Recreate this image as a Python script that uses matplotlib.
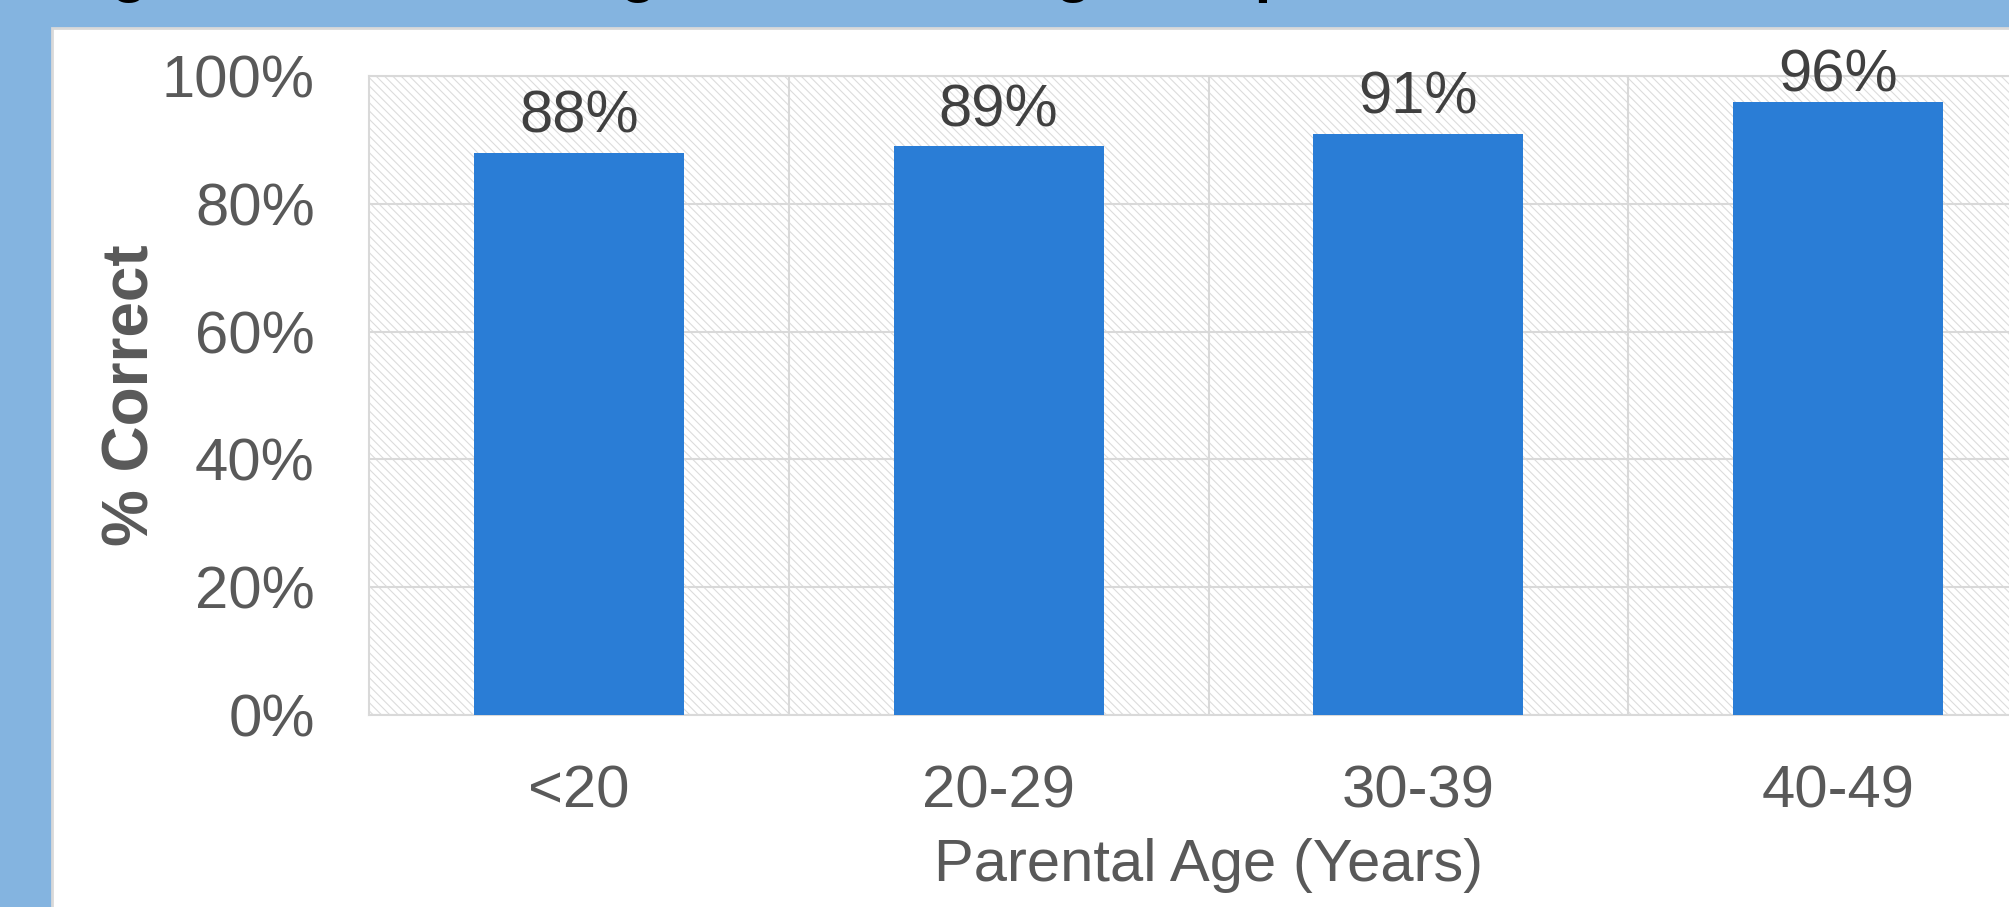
import matplotlib
matplotlib.use("Agg")
import matplotlib.pyplot as plt
from matplotlib.patches import Rectangle
import numpy as np

plt.rcParams["font.family"] = ["Liberation Sans", "DejaVu Sans"]
plt.rcParams["hatch.linewidth"] = 0.8

# data
age_groups = ["<20", "20-29", "30-39", "40-49"]
pct_correct = [88, 89, 91, 96]
y_ticks = [0, 20, 40, 60, 80, 100]

title = "Figure 3: Parental Age vs. Knowledge of Speech Milestones"

BLUE_BG = "#84B4E0"
BAR = "#2A7DD6"
GRID = "#D9D9D9"
TXT = "#595959"

fig = plt.figure(figsize=(20.09, 9.07), dpi=100, facecolor=BLUE_BG)

# white chart panel (cut off at right and bottom)
panel = Rectangle((52 / 2009, -0.05), 1.2, (907 - 28) / 907 + 0.05,
                  transform=fig.transFigure, facecolor="white",
                  edgecolor=GRID, linewidth=2, zorder=-5)
fig.patches.append(panel)

# title, only its descenders show above the panel
fig.text(58 / 2009, 1.0 + 9 / 907, title, va="baseline", ha="left", fontsize=43,
         fontweight="bold", color="black")

ax = fig.add_axes([369 / 2009, 192 / 907, 1679 / 2009, 639 / 907])
ax.patch.set_facecolor("white")
ax.patch.set_hatch("\\\\\\\\")
ax.patch.set_edgecolor("#DCDCDC")

x = np.arange(len(age_groups))
bars = ax.bar(x, pct_correct, width=0.5, color=BAR, zorder=3)

# value labels sit above the bars, kept inside the chart area
for xi, v in zip(x, pct_correct):
    ax.text(xi, min(v + 3.1, 97.6), f"{v}%", ha="center", va="baseline",
            fontsize=43, color="#404040", clip_on=False)

ax.set_xlim(-0.5, len(age_groups) - 0.5)
ax.set_ylim(0, 100)
ax.set_yticks(y_ticks)
ax.set_yticklabels([f"{t}%" for t in y_ticks])
ax.set_xticks(x)
ax.set_xticklabels(age_groups)
ax.set_xticks(np.arange(len(age_groups)) + 0.5, minor=True)

ax.tick_params(axis="both", which="both", length=0, labelsize=43, labelcolor=TXT)
ax.tick_params(axis="x", pad=36)
ax.tick_params(axis="y", pad=39)

ax.grid(axis="y", which="major", color=GRID, linewidth=1.5, zorder=1)
ax.grid(axis="x", which="minor", color=GRID, linewidth=1.5, zorder=1)
ax.grid(axis="x", which="major", visible=False)
ax.set_axisbelow(True)

for side in ["left", "bottom", "top"]:
    ax.spines[side].set_color(GRID)
    ax.spines[side].set_linewidth(1.5)
ax.spines["right"].set_visible(False)

ax.set_xlabel("Parental Age (Years)", fontsize=43, color=TXT, labelpad=13)
ax.set_ylabel("% Correct", fontsize=46, fontweight="bold", color=TXT, labelpad=0)

fig.savefig("out.png", dpi=100, facecolor=BLUE_BG)
